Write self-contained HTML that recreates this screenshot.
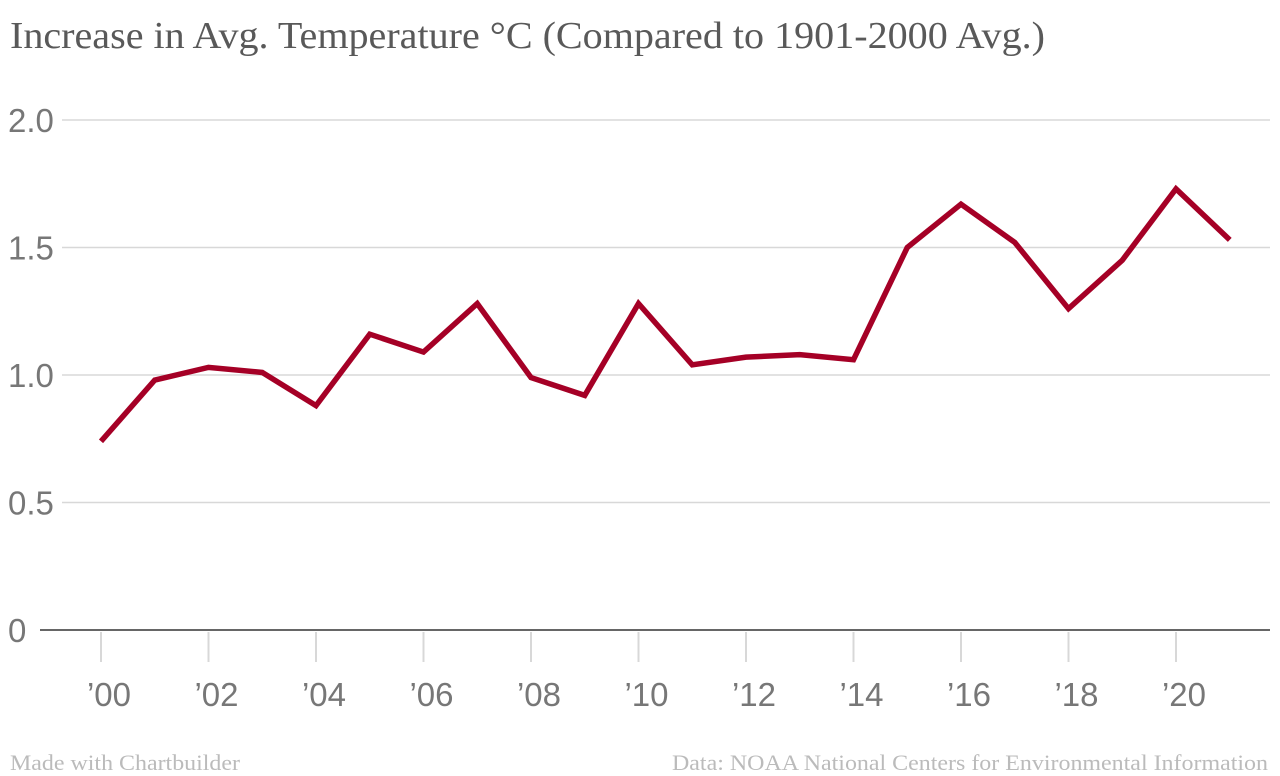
<!DOCTYPE html>
<html><head><meta charset="utf-8"><style>
body{margin:0;background:#fff;width:1280px;height:776px;overflow:hidden}
svg{display:block}
</style></head><body>
<svg width="1280" height="776" id="c">
<text x="10" y="48" textLength="1035" lengthAdjust="spacingAndGlyphs" font-family="Liberation Serif, serif" font-size="38" fill="#595959">Increase in Avg. Temperature °C (Compared to 1901-2000 Avg.)</text>
<text x="10" y="770" textLength="230" lengthAdjust="spacingAndGlyphs" font-family="Liberation Serif, serif" font-size="22" fill="#bbb">Made with Chartbuilder</text>
<text x="672" y="770" textLength="596" lengthAdjust="spacingAndGlyphs" font-family="Liberation Serif, serif" font-size="22" fill="#bbb">Data: NOAA National Centers for Environmental Information</text>
</svg>
<script>
const years=[2000,2001,2002,2003,2004,2005,2006,2007,2008,2009,2010,2011,2012,2013,2014,2015,2016,2017,2018,2019,2020,2021];
const temps=[0.74,0.98,1.03,1.01,0.88,1.16,1.09,1.28,0.99,0.92,1.28,1.04,1.07,1.08,1.06,1.50,1.67,1.52,1.26,1.45,1.73,1.53];
const yTicks=[0,0.5,1.0,1.5,2.0];
const yTickLabels=["0","0.5","1.0","1.5","2.0"];
const xTicks=[2000,2002,2004,2006,2008,2010,2012,2014,2016,2018,2020];
const xTickLabels=["’00","’02","’04","’06","’08","’10","’12","’14","’16","’18","’20"];
const NS="http://www.w3.org/2000/svg";
const svg=document.getElementById('c');
const x=v=>101+(v-2000)*53.75;
const y=v=>630-v*255;
function mk(t,a){const e=document.createElementNS(NS,t);for(const k in a)e.setAttribute(k,a[k]);svg.appendChild(e);return e;}
yTicks.forEach((v,i)=>{
  const g=mk('line',{x1:v===0?40:62,x2:1270,y1:y(v),y2:y(v),stroke:v===0?'#333':'#d8d8d8','stroke-width':1.5});
  
  
  const t=mk('text',{x:8,y:y(v)+12,'font-family':'Liberation Sans, sans-serif','font-size':33,fill:'#777'});
  t.textContent=yTickLabels[i];
  
  
});
xTicks.forEach((v,i)=>{
  const l=mk('line',{x1:x(v),x2:x(v),y1:632,y2:662,stroke:'#d8d8d8','stroke-width':2});
  
  
  const t=mk('text',{x:x(v)+8,y:706,'text-anchor':'middle','font-family':'Liberation Sans, sans-serif','font-size':33,fill:'#777'});
  t.textContent=xTickLabels[i];
  
  
});
const p=mk('polyline',{points:years.map((yr,i)=>x(yr)+','+y(temps[i])).join(' '),fill:'none',stroke:'#a50026','stroke-width':5.5,'stroke-linejoin':'miter','stroke-linecap':'butt'});


</script>
</body></html>
